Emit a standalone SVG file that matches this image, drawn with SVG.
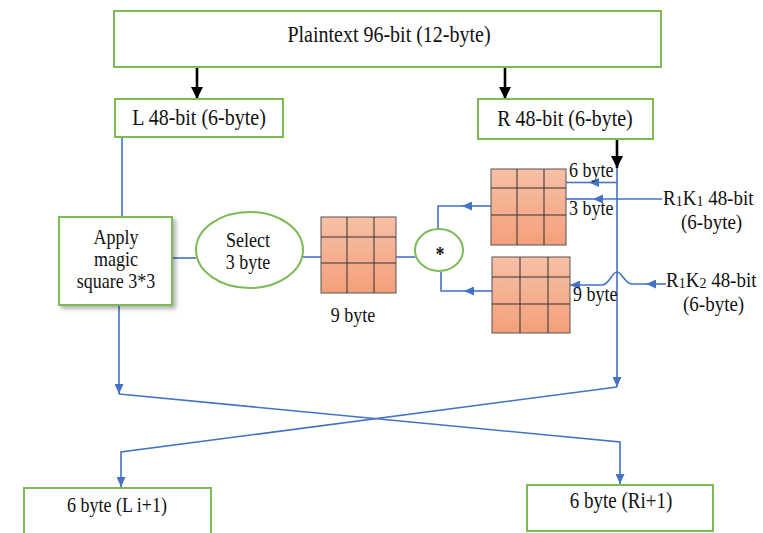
<svg xmlns="http://www.w3.org/2000/svg" width="763" height="533" viewBox="0 0 763 533">
<style>
text{font-family:"Liberation Serif","Times New Roman",serif;font-size:18px;fill:#111}
.big{font-size:20px}
.m19{font-size:19px}
.box{fill:#fff;stroke:#7dba57;stroke-width:2}
.blue{fill:none;stroke:#4472c4;stroke-width:1.6}
.blk{fill:none;stroke:#000;stroke-width:2.6}
.grid{fill:url(#sal);stroke:#555;stroke-width:1}
.gl{stroke:#333;stroke-width:1;fill:none}
.mid{text-anchor:middle}
.sub{font-size:14px}
</style>
<defs>
<linearGradient id="sal" x1="0" y1="0" x2="0" y2="1">
<stop offset="0" stop-color="#f7c0a6"/>
<stop offset="1" stop-color="#f39f7b"/>
</linearGradient>
<marker id="ab" markerUnits="userSpaceOnUse" markerWidth="10" markerHeight="9" refX="10" refY="4.5" orient="auto">
<path d="M0,0 L10,4.5 L0,9 z" fill="#4472c4"/>
</marker>
<marker id="ak" markerUnits="userSpaceOnUse" markerWidth="12" markerHeight="12" refX="12" refY="6" orient="auto">
<path d="M0,0 L12,6 L0,12 z" fill="#000"/>
</marker>
<filter id="sh" x="-20%" y="-20%" width="140%" height="140%">
<feDropShadow dx="3" dy="3" stdDeviation="2" flood-color="#000" flood-opacity="0.3"/>
</filter>
</defs>

<g id="connectors">
<path class="blk" d="M197 67 L197 99" marker-end="url(#ak)"/>
<path class="blk" d="M505 67 L505 99" marker-end="url(#ak)"/>
<path class="blk" d="M617 139 L617 168" marker-end="url(#ak)"/>
<path class="blue" d="M617 168 L617 387" marker-end="url(#ab)"/>
<path class="blue" d="M122 137 L122 217"/>
<path class="blue" d="M119 305 L119 394" marker-end="url(#ab)"/>
<path class="blue" d="M168 258 L196 258"/>
<path class="blue" d="M303 257 L321 257"/>
<path class="blue" d="M396 257 L415 257"/>
<path class="blue" d="M491 206 L462 206" marker-end="url(#ab)"/>
<path class="blue" d="M462 206 L438 206 L438 229"/>
<path class="blue" d="M492 291 L464 291" marker-end="url(#ab)"/>
<path class="blue" d="M464 291 L441 291 L441 272"/>
<path class="blue" d="M617 182.5 L589 182.5" marker-end="url(#ab)"/>
<path class="blue" d="M589 182.5 L566 182.5"/>
<path class="blue" d="M662 199 L593 199" marker-end="url(#ab)"/>
<path class="blue" d="M593 199 L566 199"/>
<path class="blue" d="M666 284 L646 284" marker-end="url(#ab)"/>
<path class="blue" d="M646 284 L632 284 C625 284 622 272 617 272 C612 272 609 285 602 285 L570 285" marker-end="url(#ab)"/>
<path class="blue" d="M119 394 L620 442 L620 484" marker-end="url(#ab)"/>
<path class="blue" d="M617 387 L121 452 L121 487" marker-end="url(#ab)"/>
</g>

<g id="plaintext">
<rect class="box" x="114" y="11" width="547" height="56"/>
<text class="mid big" transform="translate(389,41.5) scale(1,1.18)">Plaintext 96-bit (12-byte)</text>
</g>
<g id="L">
<rect class="box" x="115" y="99" width="168" height="38"/>
<text class="mid big" transform="translate(199,125) scale(1,1.18)">L 48-bit (6-byte)</text>
</g>
<g id="R">
<rect class="box" x="478" y="99" width="175" height="40"/>
<text class="mid big" transform="translate(565,126) scale(1,1.18)">R 48-bit (6-byte)</text>
</g>
<g id="apply">
<rect class="box" x="59" y="217" width="113" height="88" filter="url(#sh)"/>
<text class="mid" transform="translate(116,244) scale(1,1.18)">Apply</text>
<text class="mid" transform="translate(116,266) scale(1,1.18)">magic</text>
<text class="mid" transform="translate(116,288) scale(1,1.18)">square 3*3</text>
</g>
<g id="select">
<ellipse class="box" cx="249.5" cy="250" rx="53.5" ry="38"/>
<text class="mid" transform="translate(248,246.5) scale(1,1.18)">Select</text>
<text class="mid" transform="translate(248,268.5) scale(1,1.18)">3 byte</text>
</g>
<g id="grid9">
<rect class="grid" x="321" y="217" width="75" height="76"/>
<path class="gl" d="M347 217 V293 M374 217 V293 M321 237 H396 M321 263 H396"/>
<text class="mid" transform="translate(353,322) scale(1,1.18)">9 byte</text>
</g>
<g id="mult">
<ellipse class="box" cx="439" cy="250" rx="24" ry="21"/>
<text class="mid" transform="translate(440,261) scale(1,1.18)" style="font-weight:bold">*</text>
</g>
<g id="gridK1">
<rect class="grid" x="491" y="169" width="75" height="76"/>
<path class="gl" d="M517 169 V245 M544 169 V245 M491 188 H566 M491 215 H566"/>
</g>
<g id="gridK2">
<rect class="grid" x="492" y="257" width="78" height="76"/>
<path class="gl" d="M520 257 V333 M548 257 V333 M492 277 H570 M492 304 H570"/>
</g>
<g id="labels">
<text transform="translate(569,177) scale(1,1.18)">6 byte</text>
<text transform="translate(569,215) scale(1,1.18)">3 byte</text>
<text transform="translate(573,301) scale(1,1.18)">9 byte</text>
</g>
<g id="RK1">
<text class="m19" transform="translate(663,205) scale(1,1.08)">R<tspan class="sub" dy="1">1</tspan><tspan dy="-1">K</tspan><tspan class="sub" dy="1">1</tspan><tspan dy="-1"> 48-bit</tspan></text>
<text class="m19" transform="translate(681,228.5) scale(1,1.08)">(6-byte)</text>
</g>
<g id="RK2">
<text class="m19" transform="translate(666,287) scale(1,1.08)">R<tspan class="sub" dy="1">1</tspan><tspan dy="-1">K</tspan><tspan class="sub" dy="1">2</tspan><tspan dy="-1"> 48-bit</tspan></text>
<text class="m19" transform="translate(683,310.5) scale(1,1.08)">(6-byte)</text>
</g>
<g id="Lnext">
<rect class="box" x="24" y="488" width="187" height="52"/>
<text class="mid" transform="translate(117,512) scale(1,1.18)">6 byte (L i+1)</text>
</g>
<g id="Rnext">
<rect class="box" x="527" y="485" width="186" height="46"/>
<text class="mid m19" transform="translate(621,508) scale(1,1.18)">6 byte (Ri+1)</text>
</g>
</svg>
